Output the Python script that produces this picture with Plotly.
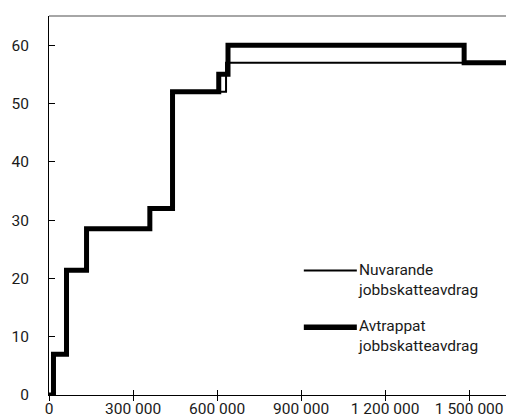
import plotly.graph_objects as go

# Income breakpoints (kr/year) and values for the step series
x_avtrappat = [0, 16000, 62500, 134000, 360000, 441000, 606000, 639000, 1482000, 1700000]
y_avtrappat = [0, 7, 21.4, 28.5, 32, 52, 55, 60, 57, 57]

x_nuvarande = [0, 16000, 62500, 134000, 360000, 441000, 632000, 1700000]
y_nuvarande = [0, 7, 21.4, 28.5, 32, 52, 57, 57]

x_tickvals = [0, 300000, 600000, 900000, 1200000, 1500000]
x_ticktext = ["0", "300 000", "600 000", "900 000", "1 200 000", "1 500 000"]
y_tickvals = [0, 10, 20, 30, 40, 50, 60]

legend_names = ["Nuvarande<br>jobbskatteavdrag", "Avtrappat<br>jobbskatteavdrag"]

FONT = "Roboto, Liberation Sans, sans-serif"
FS = 15.5
TXT = "#1a1a1a"

fig = go.Figure()
fig.add_trace(go.Scatter(x=x_nuvarande, y=y_nuvarande, mode="lines", line_shape="hv",
                         line=dict(color="black", width=2), showlegend=False, hoverinfo="skip"))
fig.add_trace(go.Scatter(x=x_avtrappat, y=y_avtrappat, mode="lines", line_shape="hv",
                         line=dict(color="black", width=5), showlegend=False, hoverinfo="skip"))
# invisible trace to activate the overlaying axis that draws inside ticks
fig.add_trace(go.Scatter(x=[0], y=[0], xaxis="x2", mode="markers",
                         marker=dict(opacity=0), showlegend=False, hoverinfo="skip"))

# page body has an 8px margin, so the figure is offset by 8px right and down
fig.update_layout(
    width=506, height=409,
    margin=dict(l=41, r=0, t=8, b=22),
    paper_bgcolor="white", plot_bgcolor="white",
    font=dict(family=FONT, size=FS, color=TXT),
    xaxis=dict(range=[0, 1660000], tickvals=x_tickvals, ticktext=x_ticktext,
               automargin=False, tickangle=0,
               showgrid=False, zeroline=False, showline=True, linecolor="black", linewidth=1,
               ticks="outside", ticklen=5, tickcolor="black", tickwidth=1,
               ticklabelstandoff=-6, tickfont=dict(family=FONT, size=FS, color=TXT)),
    xaxis2=dict(overlaying="x", matches="x", anchor="y", side="bottom", automargin=False,
                tickvals=x_tickvals, showticklabels=False, showgrid=False, zeroline=False,
                showline=False, ticks="inside", ticklen=5, tickcolor="black", tickwidth=1),
    yaxis=dict(range=[0, 65], tickvals=y_tickvals, showgrid=False, zeroline=False,
               automargin=False,
               showline=True, linecolor="black", linewidth=1,
               ticks="inside", ticklen=6, tickcolor="black", tickwidth=1,
               ticklabelstandoff=16, tickfont=dict(family=FONT, size=FS, color=TXT)),
    shapes=[
        dict(type="line", xref="paper", yref="paper", x0=0, x1=1, y0=1, y1=1,
             line=dict(color="#888888", width=1.5)),
        dict(type="line", xref="paper", yref="paper", x0=0.548, x1=0.662, y0=0.3288, y1=0.3288,
             line=dict(color="black", width=2)),
        dict(type="line", xref="paper", yref="paper", x0=0.548, x1=0.662, y0=0.1787, y1=0.1787,
             line=dict(color="black", width=5.5)),
    ],
    annotations=[
        dict(xref="paper", yref="paper", x=0.66, y=0.3046, xanchor="left", yanchor="middle",
             text=legend_names[0], showarrow=False, align="left",
             font=dict(family=FONT, size=FS, color=TXT)),
        dict(xref="paper", yref="paper", x=0.66, y=0.155, xanchor="left", yanchor="middle",
             text=legend_names[1], showarrow=False, align="left",
             font=dict(family=FONT, size=FS, color=TXT)),
    ],
)

fig.write_html("out.html")
